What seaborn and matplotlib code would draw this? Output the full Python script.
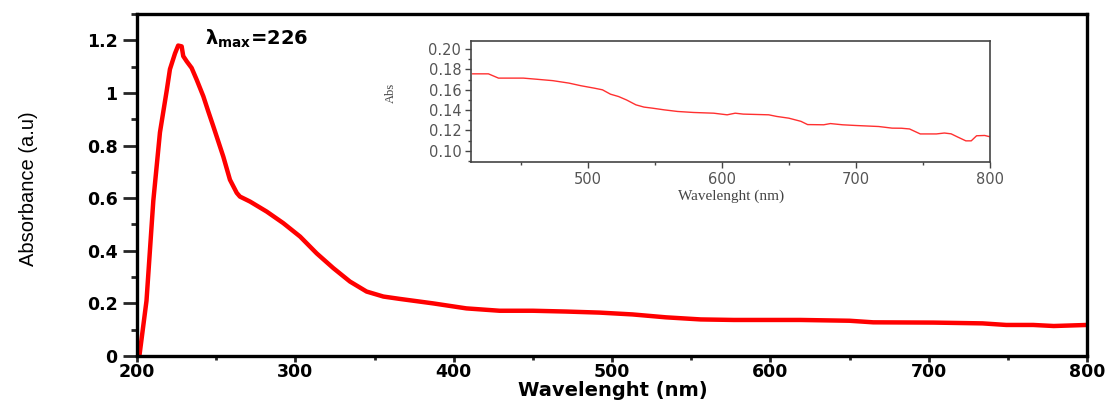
import matplotlib
matplotlib.use("Agg")
import matplotlib.pyplot as plt
from matplotlib.ticker import MultipleLocator, FixedLocator
import seaborn as sns

# ---- data ----
main_wl = [201.5, 206, 210.3, 214.5, 218.8, 220.8, 224, 226, 228.2, 229.2, 231.4, 234.5,
           237.7, 241.9, 245, 248.2, 254.5, 258.7, 263, 265, 271.4, 281.9, 292.4, 303, 313.5,
           324, 334.5, 345, 355.6, 366, 387, 408, 429, 450, 471, 492, 513, 534, 556, 577,
           598, 619, 650, 665, 703, 734, 749, 766, 779, 800]
main_abs = [0, 0.21, 0.59, 0.85, 1.01, 1.09, 1.15, 1.18, 1.177, 1.14, 1.12, 1.095,
            1.05, 0.987, 0.93, 0.873, 0.758, 0.67, 0.62, 0.606, 0.587, 0.549, 0.505, 0.454,
            0.39, 0.334, 0.283, 0.245, 0.226, 0.217, 0.20, 0.181, 0.172, 0.172, 0.169, 0.165,
            0.158, 0.147, 0.139, 0.137, 0.137, 0.137, 0.134, 0.128, 0.127, 0.124, 0.118,
            0.118, 0.114, 0.118]

inset_wl = [414, 426, 433.5, 452, 461, 474, 486, 495, 505, 511, 517, 523, 529, 536, 542,
            548, 557, 567, 579, 594, 604, 610, 616, 635, 641, 650, 659, 664, 676, 681, 690,
            700, 717, 727, 734, 740, 748, 760, 766, 771, 776, 782, 786, 790, 796, 800]
inset_abs = [0.1757, 0.1757, 0.1715, 0.1715, 0.1705, 0.169, 0.1666, 0.164, 0.1616, 0.160,
             0.1557, 0.1534, 0.150, 0.1452, 0.143, 0.142, 0.1403, 0.1387, 0.1377, 0.137,
             0.1354, 0.137, 0.1361, 0.1354, 0.1338, 0.1321, 0.1290, 0.1258, 0.1256, 0.1268,
             0.1256, 0.1249, 0.1239, 0.1223, 0.1222, 0.1215, 0.1166, 0.1166, 0.1175, 0.1167,
             0.1135, 0.1098, 0.1098, 0.1148, 0.1151, 0.1138]

main_xticks = [200, 300, 400, 500, 600, 700, 800]
main_yticks = [0, 0.2, 0.4, 0.6, 0.8, 1.0, 1.2]
main_yticklabels = ["0", "0.2", "0.4", "0.6", "0.8", "1", "1.2"]
inset_xticks = [500, 600, 700, 800]
inset_yticks = [0.10, 0.12, 0.14, 0.16, 0.18, 0.20]
inset_yticklabels = ["0.10", "0.12", "0.14", "0.16", "0.18", "0.20"]

# ---- style ----
sns.set_theme(style="ticks")
plt.rcParams["font.family"] = ["DejaVu Sans"]
plt.rcParams["mathtext.fontset"] = "dejavusans"

fig = plt.figure(figsize=(11.15, 4.01), dpi=100)
ax = fig.add_axes([137 / 1115, 1 - 356 / 401, 950 / 1115, 342 / 401])

sns.lineplot(x=main_wl, y=main_abs, ax=ax, color="#ff0000", linewidth=3.2,
             estimator=None, sort=False)
ax.set_xlim(200, 800)
ax.set_ylim(0, 1.3)

ax.xaxis.set_major_locator(FixedLocator(main_xticks))
ax.xaxis.set_minor_locator(MultipleLocator(50))
ax.set_yticks(main_yticks)
ax.set_yticklabels(main_yticklabels)
ax.yaxis.set_minor_locator(MultipleLocator(0.1))

for s in ax.spines.values():
    s.set_linewidth(2.4)
    s.set_color("black")
    s.set_visible(True)

ax.tick_params(axis="y", which="major", direction="out", length=10, width=2, pad=4)
ax.tick_params(axis="y", which="minor", direction="out", length=4, width=2)
ax.tick_params(axis="x", which="major", direction="out", length=4, width=2, pad=1)
ax.tick_params(axis="x", which="minor", direction="out", length=3, width=2)
for lab in ax.get_xticklabels() + ax.get_yticklabels():
    lab.set_fontweight("bold")
    lab.set_fontsize(12.5)
    lab.set_color("black")

ax.set_xlabel("Wavelenght (nm)", fontsize=14, fontweight="bold", color="black")
ax.xaxis.set_label_coords(0.501, (356 - 400) / 342)
ax.xaxis.label.set_va("bottom")
ax.set_ylabel("Absorbance (a.u)", fontsize=14.5, family="Liberation Sans", color="black")
ax.yaxis.set_label_coords(-0.1137, 0.49)
ax.yaxis.label.set_va("center")

ax.text(243, 1.205, r"λ$_{\mathbf{max}}$=226", fontsize=14, fontweight="bold",
        ha="left", va="center", color="black")

# ---- inset ----
ins = fig.add_axes([471 / 1115, 1 - 162 / 401, 519 / 1115, 121 / 401])
sns.lineplot(x=inset_wl, y=inset_abs, ax=ins, color="#ff3030", linewidth=1.0,
             estimator=None, sort=False)
ins.set_xlim(413, 800)
ins.set_ylim(0.089, 0.208)
ins.xaxis.set_major_locator(FixedLocator(inset_xticks))
ins.xaxis.set_minor_locator(MultipleLocator(50))
ins.set_yticks(inset_yticks)
ins.set_yticklabels(inset_yticklabels)
ins.yaxis.set_minor_locator(MultipleLocator(0.01))
for s in ins.spines.values():
    s.set_linewidth(1.2)
    s.set_color("#444444")
    s.set_visible(True)
ins.tick_params(which="major", direction="out", length=4, width=1, color="#444444",
                labelcolor="#555555", labelsize=10.5, pad=3)
ins.tick_params(which="minor", direction="out", length=2.5, width=1, color="#444444")
ins.set_xlabel("Wavelenght (nm)", fontsize=11, family="Liberation Serif", color="#444444")
ins.xaxis.set_label_coords(0.502, -0.281)
ins.xaxis.label.set_va("center")
ins.set_ylabel("Abs", fontsize=9, family="Liberation Serif", color="#444444")
ins.yaxis.set_label_coords(-0.154, 0.57)
ins.yaxis.label.set_va("center")

fig.savefig("out.png", dpi=100)
